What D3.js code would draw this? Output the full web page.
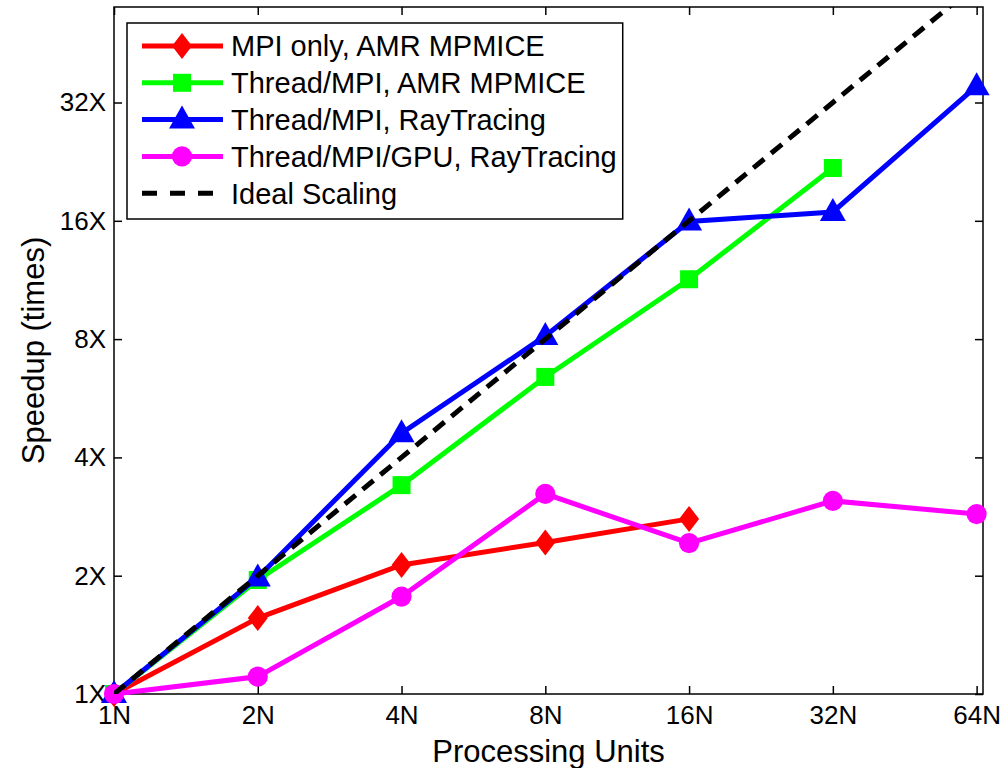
<!DOCTYPE html>
<html>
<meta charset="utf-8">
<script src="https://d3js.org/d3.v7.min.js"></script>
<body>
<style>
    body, html { margin: 0; padding: 0; background: #fff; overflow: hidden; }
    svg text { font-family: "Liberation Sans", Arial, sans-serif; fill: #000; }
</style>
<svg id="chart"></svg>
<script>
    // processing units (x) and tick labels
    var units = [1, 2, 4, 8, 16, 32, 64];
    var unitLabels = ["1N", "2N", "4N", "8N", "16N", "32N", "64N"];
    var speedTicks = [1, 2, 4, 8, 16, 32];
    var speedLabels = ["1X", "2X", "4X", "8X", "16X", "32X"];

    // speedup values
    var mpiOnlyAmr = [1, 1.56, 2.13, 2.43, 2.79];
    var threadMpiAmr = [1, 1.95, 3.40, 6.41, 11.36, 21.8];
    var threadMpiRay = [1, 1.98, 4.61, 8.15, 15.93, 16.85, 35.2];
    var threadMpiGpuRay = [1, 1.107, 1.77, 3.23, 2.42, 3.10, 2.87];
    var idealScaling = [1, 2, 4, 8, 16, 32, 64];

    var seriesNames = ["MPI only, AMR MPMICE", "Thread/MPI, AMR MPMICE", "Thread/MPI, RayTracing",
        "Thread/MPI/GPU, RayTracing", "Ideal Scaling"];
    var seriesColors = ["#ff0000", "#00ff00", "#0000ff", "#ff00ff", "#000000"];
    var seriesMarkers = ["diamond", "square", "triangle", "circle", null];
    var seriesValues = [mpiOnlyAmr, threadMpiAmr, threadMpiRay, threadMpiGpuRay, idealScaling];

    var width = 1000, height = 768;
    var margins = { top: 7, left: 114, right: 17, bottom: 74 };

    var svg = d3.select("#chart").attr("width", width).attr("height", height);

    var x = d3.scaleLog().base(2).domain([1, 66]).range([margins.left, width - margins.right]);
    var y = d3.scaleLog().base(2).domain([1, 56]).range([height - margins.bottom, margins.top]);

    svg.append("clipPath").attr("id", "plot-clip")
        .append("rect")
        .attr("x", x.range()[0]).attr("y", y.range()[1])
        .attr("width", x.range()[1] - x.range()[0])
        .attr("height", y.range()[0] - y.range()[1]);

    // axes with inward ticks on all four sides
    function styleAxis(g) {
        g.select(".domain").remove();
        g.selectAll(".tick line").attr("stroke", "#000").attr("stroke-width", 1.5);
        g.selectAll(".tick text").style("font-size", "26px").attr("fill", "#000");
    }

    svg.append("g")
        .attr("transform", `translate(0, ${y.range()[0]})`)
        .call(d3.axisBottom(x).tickValues(units).tickFormat(function (d, i) { return unitLabels[i]; })
            .tickSizeInner(-8).tickSizeOuter(0).tickPadding(12))
        .call(styleAxis);

    svg.append("g")
        .attr("transform", `translate(0, ${y.range()[1]})`)
        .call(d3.axisTop(x).tickValues(units).tickFormat("").tickSizeInner(-8).tickSizeOuter(0))
        .call(styleAxis);

    svg.append("g")
        .attr("transform", `translate(${x.range()[0]}, 0)`)
        .call(d3.axisLeft(y).tickValues(speedTicks).tickFormat(function (d, i) { return speedLabels[i]; })
            .tickSizeInner(-8).tickSizeOuter(0).tickPadding(8))
        .call(styleAxis);

    svg.append("g")
        .attr("transform", `translate(${x.range()[1]}, 0)`)
        .call(d3.axisRight(y).tickValues(speedTicks).tickFormat("").tickSizeInner(-8).tickSizeOuter(0))
        .call(styleAxis);

    // box
    svg.append("rect")
        .attr("x", x.range()[0]).attr("y", y.range()[1])
        .attr("width", x.range()[1] - x.range()[0])
        .attr("height", y.range()[0] - y.range()[1])
        .attr("fill", "none").attr("stroke", "#000").attr("stroke-width", 1.5);

    // axis titles
    svg.append("text")
        .attr("x", (x.range()[0] + x.range()[1]) / 2)
        .attr("y", 762)
        .attr("text-anchor", "middle")
        .style("font-size", "31px")
        .text("Processing Units");

    svg.append("text")
        .attr("transform", `translate(44, ${(y.range()[0] + y.range()[1]) / 2}) rotate(-90)`)
        .attr("text-anchor", "middle")
        .style("font-size", "31px")
        .text("Speedup (times)");

    function markerPath(type) {
        if (type === "diamond") return "M0,-13L10,0L0,13L-10,0Z";
        if (type === "square") return "M-9,-9L9,-9L9,9L-9,9Z";
        if (type === "triangle") return "M0,-14L13,9L-13,9Z";
        if (type === "circle") return d3.symbol(d3.symbolCircle, 320)();
        return null;
    }

    var line = d3.line()
        .x(function (d) { return x(d[0]); })
        .y(function (d) { return y(d[1]); });

    seriesValues.forEach(function (vals, s) {
        var pts = vals.map(function (v, i) { return [units[i], v]; });
        var g = svg.append("g").attr("clip-path", s === 4 ? "url(#plot-clip)" : null);
        g.append("path")
            .datum(pts)
            .attr("d", line)
            .attr("fill", "none")
            .attr("stroke", seriesColors[s])
            .attr("stroke-width", 5)
            .attr("stroke-dasharray", s === 4 ? "14,9" : null);
        if (seriesMarkers[s]) {
            g.selectAll(".mk").data(pts).enter().append("path")
                .attr("transform", function (d) { return `translate(${x(d[0])}, ${y(d[1])})`; })
                .attr("d", markerPath(seriesMarkers[s]))
                .attr("fill", seriesColors[s]);
        }
    });

    // legend
    var legend = svg.append("g");
    var legendBox = legend.append("rect")
        .attr("x", 127).attr("y", 23)
        .attr("fill", "#fff").attr("stroke", "#000").attr("stroke-width", 1.5);
    var rowGap = 36.8, firstRow = 46;
    var maxText = 0;
    seriesNames.forEach(function (name, s) {
        var cy = firstRow + s * rowGap;
        legend.append("line")
            .attr("x1", 142).attr("x2", 223)
            .attr("y1", cy).attr("y2", cy)
            .attr("stroke", seriesColors[s])
            .attr("stroke-width", 5)
            .attr("stroke-dasharray", s === 4 ? "15,13" : null);
        if (seriesMarkers[s]) {
            legend.append("path")
                .attr("transform", `translate(182, ${cy})`)
                .attr("d", markerPath(seriesMarkers[s]))
                .attr("fill", seriesColors[s]);
        }
        var t = legend.append("text")
            .attr("x", 231).attr("y", cy)
            .attr("dy", "0.36em")
            .style("font-size", "29px")
            .text(name);
        maxText = Math.max(maxText, t.node().getComputedTextLength());
    });
    legendBox.attr("width", 231 + maxText + 6 - 127).attr("height", 196);
</script>
</body>
</html>
